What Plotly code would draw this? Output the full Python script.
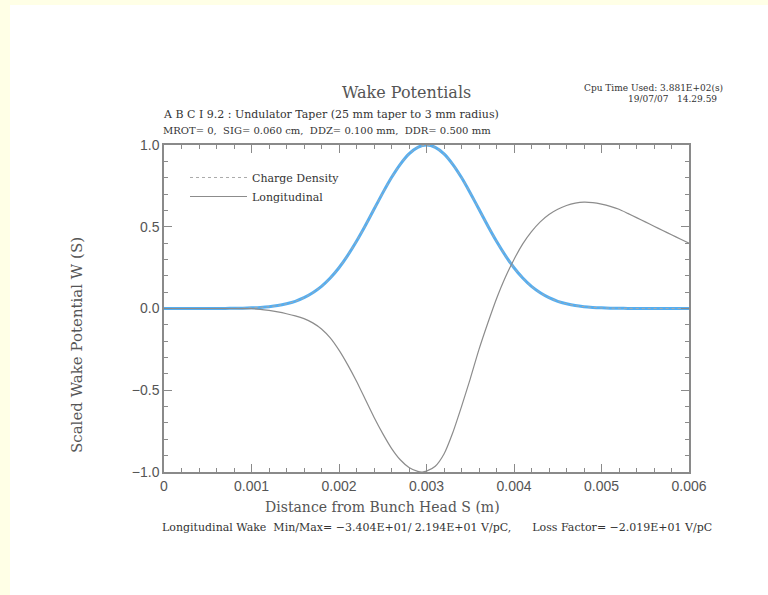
import plotly.graph_objects as go

# ---- data ----
s_density = [-0.0002, 0.0, 0.0005, 0.0006, 0.0007, 0.0008, 0.0009, 0.0010, 0.0011, 0.0012,
             0.0013, 0.0014, 0.0015, 0.0016, 0.0017, 0.0018, 0.0019, 0.0020, 0.0021,
             0.0022, 0.0023, 0.0024, 0.0025, 0.0026, 0.0027, 0.0028, 0.0029, 0.0030,
             0.0031, 0.0032, 0.0033, 0.0034, 0.0035, 0.0036, 0.0037, 0.0038, 0.0039,
             0.0040, 0.0041, 0.0042, 0.0043, 0.0044, 0.0045, 0.0046, 0.0047, 0.0048,
             0.0049, 0.0050, 0.0051, 0.0052, 0.0053, 0.0055, 0.0062]
charge_density = [0.0, 0.0, 0.0, 0.0003, 0.0006, 0.0012, 0.0022, 0.0039, 0.0066, 0.011,
                  0.018, 0.029, 0.044, 0.066, 0.096, 0.135, 0.186, 0.249, 0.325,
                  0.411, 0.506, 0.607, 0.707, 0.801, 0.882, 0.946, 0.986, 1.0,
                  0.986, 0.946, 0.882, 0.801, 0.707, 0.607, 0.506, 0.411, 0.325,
                  0.249, 0.186, 0.135, 0.096, 0.066, 0.044, 0.029, 0.018, 0.011,
                  0.0066, 0.0039, 0.0022, 0.0012, 0.0006, 0.0, 0.0]

s_wake = [0.0, 0.0005, 0.0010, 0.0011, 0.0012, 0.0013, 0.0014, 0.0015, 0.0016, 0.0017,
          0.0018, 0.0019, 0.0020, 0.0021, 0.0022, 0.0023, 0.0024, 0.0025, 0.0026,
          0.0027, 0.0028, 0.0029, 0.00295, 0.0030, 0.0031, 0.0032, 0.0033, 0.0034,
          0.0035, 0.0036, 0.0037, 0.0038, 0.0039, 0.0040, 0.0041, 0.0042, 0.0043,
          0.0044, 0.0045, 0.0046, 0.0047, 0.0048, 0.0049, 0.0050, 0.0051, 0.0052,
          0.0053, 0.0054, 0.0055, 0.0056, 0.0057, 0.0058, 0.0059, 0.0060]
longitudinal = [0.0, 0.0, -0.001, -0.005, -0.012, -0.021, -0.032, -0.045, -0.062, -0.088,
                -0.125, -0.18, -0.255, -0.345, -0.445, -0.555, -0.665, -0.765, -0.855,
                -0.925, -0.972, -0.996, -1.0, -0.995, -0.965, -0.89, -0.76, -0.60,
                -0.43, -0.25, -0.09, 0.06, 0.19, 0.30, 0.395, 0.47, 0.53,
                0.575, 0.607, 0.63, 0.644, 0.65, 0.647, 0.638, 0.625, 0.607,
                0.582, 0.556, 0.530, 0.503, 0.477, 0.451, 0.425, 0.40]

x_ticks = [0, 0.001, 0.002, 0.003, 0.004, 0.005, 0.006]
x_ticklabels = ["0", "0.001", "0.002", "0.003", "0.004", "0.005", "0.006"]
y_ticks = [-1.0, -0.5, 0.0, 0.5, 1.0]
y_ticklabels = ["\u22121.0", "\u22120.5", "0.0", "0.5", "1.0"]

title_text = "Wake Potentials"
subtitle1 = "A B C I 9.2 : Undulator Taper (25 mm taper to 3 mm radius)"
subtitle2 = "MROT= 0,  SIG= 0.060 cm,  DDZ= 0.100 mm,  DDR= 0.500 mm"
cpu_line1 = "Cpu Time Used: 3.881E+02(s)"
cpu_line2 = "19/07/07   14.29.59"
footer = ("Longitudinal Wake  Min/Max= \u22123.404E+01/ 2.194E+01 V/pC,"
          "      Loss Factor= \u22122.019E+01 V/pC")
x_title = "Distance from Bunch Head S (m)"
y_title = "Scaled Wake Potential W (S)"

SERIF = "DejaVu Serif"
SANS = "Liberation Sans"
GRAY = "#555555"
AX = "#8a8a8a"

fig = go.Figure()
fig.add_trace(go.Scatter(x=s_density, y=charge_density, mode="lines",
                         line=dict(color="#56aef0", width=3, shape="spline", smoothing=0.6),
                         showlegend=False, hoverinfo="skip"))
fig.add_trace(go.Scatter(x=s_density, y=charge_density, mode="lines", name="Charge Density",
                         line=dict(color="#aaaaaa", width=1, dash="dot", shape="spline", smoothing=0.6)))
fig.add_trace(go.Scatter(x=s_wake, y=longitudinal, mode="lines", name="Longitudinal",
                         line=dict(color="#8c8c8c", width=1.2, shape="spline", smoothing=0.6)))

axis_common = dict(showline=True, linecolor=AX, linewidth=1.5, mirror="ticks",
                   ticks="inside", ticklen=8, tickcolor=AX, tickwidth=1,
                   showgrid=False, zeroline=False,
                   tickfont=dict(family=SANS, size=14, color=GRAY))
fig.update_xaxes(range=[0, 0.006], tickvals=x_ticks, ticktext=x_ticklabels,
                 minor=dict(dtick=0.0002, ticks="inside", ticklen=4, tickcolor=AX, showgrid=False),
                 **axis_common)
fig.update_yaxes(range=[-1.0, 1.0], tickvals=y_ticks, ticktext=y_ticklabels,
                 minor=dict(dtick=0.1, ticks="inside", ticklen=4, tickcolor=AX, showgrid=False),
                 **axis_common)

# white sheet over pale yellow page
fig.add_shape(type="rect", xref="paper", yref="paper",
              x0=(10 - 164) / 525, x1=1.3, y0=-0.6, y1=(472 - 5) / 327,
              fillcolor="white", line=dict(width=0), layer="below")

def ann(text, x, y, size, family=SERIF, xanchor="left", color=GRAY, **kw):
    fig.add_annotation(text=text, xref="paper", yref="paper", x=(x - 164) / 525,
                       y=(472 - y) / 327, xanchor=xanchor, yanchor="middle", showarrow=False,
                       font=dict(family=family, size=size, color=color), **kw)

ann(title_text, 406, 93, 16, xanchor="center")
ann(subtitle1, 161, 114, 11, color="#333333")
ann(subtitle2, 161, 130, 10, color="#333333")
ann(cpu_line1, 725, 88, 9, xanchor="right", color="#333333")
ann(cpu_line2, 719, 99, 9, xanchor="right", color="#333333")
ann(x_title, 382, 507, 14, xanchor="center")
ann(footer, 160, 527, 11, color="#333333")
ann(y_title, 77, 345, 15, xanchor="center", textangle=-90)

fig.update_layout(
    width=768, height=595,
    margin=dict(l=164, r=79, t=145, b=123, autoexpand=False),
    paper_bgcolor="#ffffe6", plot_bgcolor="white",
    legend=dict(x=0.04, y=0.945, xanchor="left", yanchor="top", bgcolor="rgba(0,0,0,0)",
                font=dict(family=SERIF, size=11, color="#333333"), tracegroupgap=0,
                itemwidth=57),
)

fig.write_html("out.html", config={"displayModeBar": False},
               post_script="document.body.style.margin='0px';")
